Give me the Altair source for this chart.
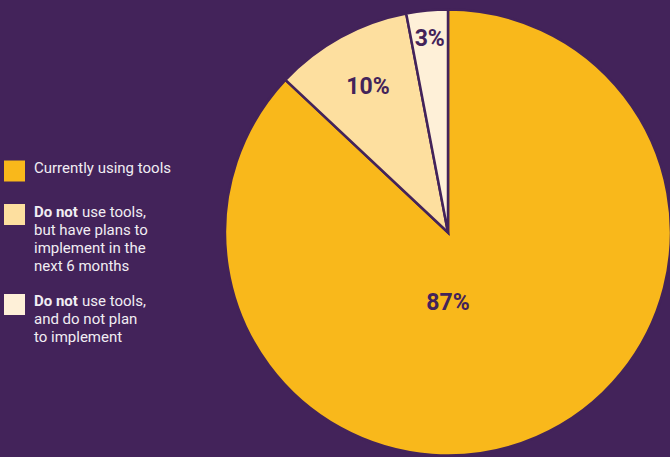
import altair as alt
import pandas as pd

# ---- data ----
categories = ["Currently using tools",
              "Do not use tools, but have plans to implement in the next 6 months",
              "Do not use tools, and do not plan to implement"]
values = [87, 10, 3]
labels = ["87%", "10%", "3%"]
colors = ["#F9B81B", "#FDDF9F", "#FEF0D8"]
legend_lines = [
    [("", "Currently using tools")],
    [("Do not", "use tools,"), ("", "but have plans to"), ("", "implement in the"), ("", "next 6 months")],
    [("Do not", "use tools,"), ("", "and do not plan"), ("", "to implement")],
]

BG = "#43235A"
TXT = "#F1EDF3"
FONT = "Roboto"

df = pd.DataFrame({"cat": categories, "value": values, "label": labels,
                   "idx": list(range(len(values)))})

cx, cy, R = 448, 232.5, 223
color_scale = alt.Scale(domain=categories, range=colors)

pie = alt.Chart(df).mark_arc(radius=R, stroke=BG, strokeWidth=2.5).encode(
    theta=alt.Theta("value:Q", stack=True),
    order=alt.Order("idx:Q"),
    color=alt.Color("cat:N", scale=color_scale, legend=None),
    x=alt.value(cx), y=alt.value(cy))

small_labels = alt.Chart(df).transform_stack(
    stack="value", groupby=[], as_=["v0", "v1"], sort=[alt.SortField("idx")]
).transform_calculate(
    mid="(datum.v0 + datum.v1) / 2"
).transform_filter(alt.datum.idx > 0).mark_text(
    font=FONT, fontSize=23, fontWeight="bold", baseline="middle"
).encode(
    x=alt.value(cx), y=alt.value(cy), text="label:N",
    theta=alt.Theta("mid:Q", scale=alt.Scale(domain=[0, 100]), stack=False),
    radius=alt.Radius("cat:N", scale=alt.Scale(domain=categories[1:], range=[166, 194])),
    color=alt.value(BG),
)

big_label = alt.Chart(df).transform_filter(alt.datum.idx == 0).mark_text(
    font=FONT, fontSize=23, fontWeight="bold", color=BG, dy=70, baseline="middle"
).encode(x=alt.value(cx), y=alt.value(cy), text="label:N")

layers = [pie, small_labels, big_label]

# legend
square_y = [171, 214.5, 304.5]
first_line_y = [167.5, 212, 300.5]
for i, cat in enumerate(categories):
    layers.append(alt.Chart(df).transform_filter(alt.datum.idx == i).mark_square(
        size=441, opacity=1).encode(
        x=alt.value(14.5), y=alt.value(square_y[i]),
        color=alt.Color("cat:N", scale=color_scale, legend=None)))
    for k, (bold, normal) in enumerate(legend_lines[i]):
        ypos = first_line_y[i] + 18 * k
        if bold:
            layers.append(alt.Chart(pd.DataFrame([{"t": bold}])).mark_text(
                font=FONT, fontSize=15, fontWeight="bold", color=TXT, align="left", baseline="middle"
            ).encode(x=alt.value(34), y=alt.value(ypos), text="t:N"))
            layers.append(alt.Chart(pd.DataFrame([{"t": normal}])).mark_text(
                font=FONT, fontSize=15, color=TXT, align="left", baseline="middle"
            ).encode(x=alt.value(82), y=alt.value(ypos), text="t:N"))
        else:
            layers.append(alt.Chart(pd.DataFrame([{"t": normal}])).mark_text(
                font=FONT, fontSize=15, color=TXT, align="left", baseline="middle"
            ).encode(x=alt.value(34), y=alt.value(ypos), text="t:N"))

chart = alt.layer(*layers).properties(
    width=670, height=457, padding=0, autosize=alt.AutoSizeParams(type="none"),
    background=BG
).configure_view(stroke=None)

chart.save("out.html", embed_options={"renderer": "svg", "actions": False})
